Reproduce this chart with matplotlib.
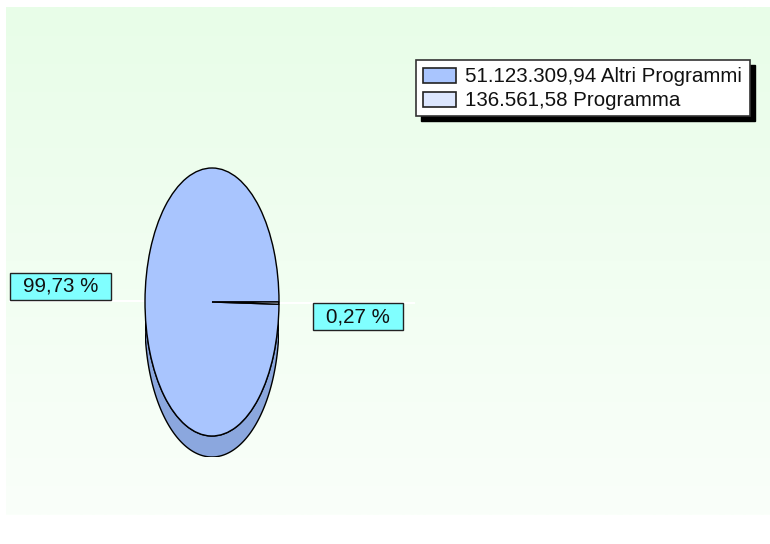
import numpy as np
import matplotlib
matplotlib.use("Agg")
import matplotlib.pyplot as plt
from matplotlib.patches import Rectangle, Polygon

# importi per voce di spesa
labels = ["Altri Programmi", "Programma"]
amounts = [51123309.94, 136561.58]
face_colors = ["#A9C5FE", "#DCE6FE"]
side_colors = ["#8BA7DE", "#B0BDE0"]


def it_number(v):
    s = f"{v:,.2f}"
    return s.replace(",", "#").replace(".", ",").replace("#", ".")


W, H = 770, 544
plt.rcParams["font.family"] = ["Liberation Sans", "DejaVu Sans"]
FS = 14.8

fig = plt.figure(figsize=(W / 100, H / 100), dpi=100, facecolor="white")

# background panel in pixel units
bg = fig.add_axes([0, 0, 1, 1])
bg.set_xlim(0, W)
bg.set_ylim(H, 0)
bg.axis("off")
top = np.array([232, 253, 232]) / 255
bottom = np.array([250, 255, 250]) / 255
t = np.linspace(0, 1, 256)[:, None, None]
grad = top * (1 - t) + bottom * t
bg.imshow(grad, extent=(6, W, 515, 7), aspect="auto", zorder=0)

# pie geometry (pixels)
cx, cy, a, b, depth = 212, 302, 67, 134, 21
pa = fig.add_axes([(cx - a) / W, (H - (cy + b + depth)) / H,
                   2 * a / W, (2 * b + depth) / H])
pa.pie(amounts, colors=face_colors, startangle=0, counterclock=True,
       wedgeprops=dict(edgecolor="black", linewidth=1, zorder=3))
pa.set_aspect("auto")
d = depth / b
pa.set_xlim(-1, 1)
pa.set_ylim(-1 - d, 1)

# side walls of the lower half
fracs = np.array(amounts) / sum(amounts)
edges = np.concatenate([[0], np.cumsum(fracs)]) * 360
for k in range(len(amounts)):
    t0, t1 = max(edges[k], 180), min(edges[k + 1], 360)
    if t1 <= t0:
        continue
    th = np.radians(np.linspace(t0, t1, 200))
    xs, ys = np.cos(th), np.sin(th)
    pts = np.vstack([np.column_stack([xs, ys]),
                     np.column_stack([xs[::-1], ys[::-1] - d])])
    pa.add_patch(Polygon(pts, closed=True, fc=side_colors[k],
                         ec="black", lw=1, zorder=1))

# percentage labels
fig.canvas.draw()
renderer = fig.canvas.get_renderer()
for k in range(len(amounts)):
    mid = np.radians((edges[k] + edges[k + 1]) / 2)
    ax_, ay_ = cx + a * np.cos(mid), cy - b * np.sin(mid)
    txt = it_number(fracs[k] * 100) + " %"
    tt = bg.text(0, 0, txt, fontsize=FS, ha="center", va="center",
                 color="#111111", zorder=6)
    ext = tt.get_window_extent(renderer)
    bw, bh = ext.width + 26, 27
    if np.cos(mid) < 0:
        x1 = ax_ - 34
        x0 = x1 - bw
        y0 = ay_ - bh - 1
        bg.plot([x0, ax_], [ay_, ay_], color="white", lw=1.5, zorder=4)
    else:
        x0 = ax_ + 34
        x1 = x0 + bw
        y0 = ay_
        bg.plot([ax_, x1 + 11], [ay_, ay_], color="white", lw=1.5, zorder=4)
    bg.add_patch(Rectangle((x0, y0), bw, bh, fc="#80FFFF", ec="#222222",
                           lw=1, zorder=5))
    tt.set_position(((x0 + x1) / 2, y0 + bh / 2))

# legend box with drop shadow
lx, ly, lw_, lh = 416, 60, 334, 56
bg.add_patch(Rectangle((lx + 5, ly + 5), lw_, lh, fc="black", ec="black",
                       zorder=5))
bg.add_patch(Rectangle((lx, ly), lw_, lh, fc="white", ec="#333333",
                       lw=1.2, zorder=6))
for k in range(len(amounts)):
    ry = ly + 8 + k * 24
    bg.add_patch(Rectangle((lx + 7, ry), 33, 15, fc=face_colors[k],
                           ec="#222222", lw=1.2, zorder=7))
    bg.text(lx + 49, ry + 8.5, f"{it_number(amounts[k])} {labels[k]}",
            fontsize=FS, ha="left", va="center", color="#111111", zorder=7)

fig.savefig("out.png", dpi=100, facecolor="white")
